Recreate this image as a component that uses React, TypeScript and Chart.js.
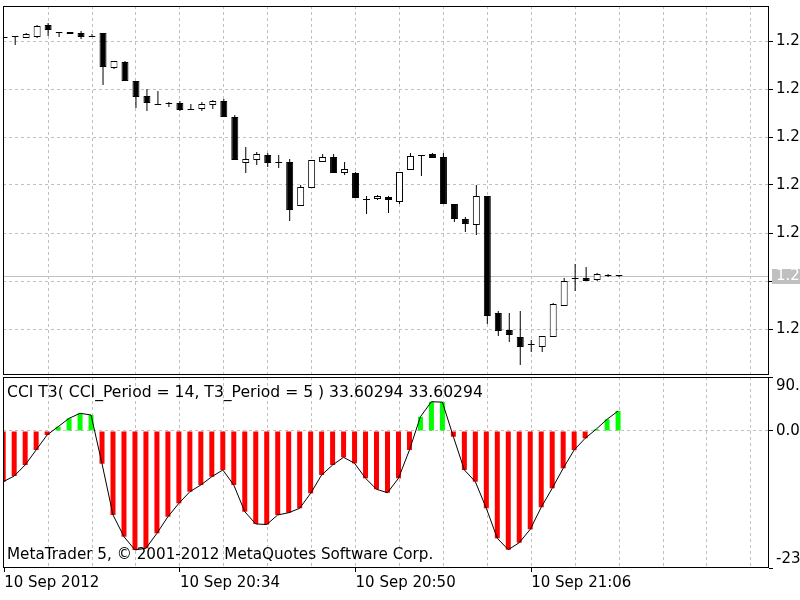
import React, { useEffect, useRef } from "react";
import { Chart, registerables } from "chart.js";

Chart.register(...registerables);

const FONT_FAMILY = "DejaVu Sans";
const FONT_SIZE = 15;
const TITLE_FONT_SIZE = 15.6;
const COPYRIGHT_FONT_SIZE = 15.2;
const GRID_COLOR = "#c0c0c0";
const GRID_DASH = [3, 3];

// ---- data: 1-minute bars, first bar = 10 Sep 2012 20:18 ----
const open = [
  1.28768, 1.28769, 1.28768, 1.28769, 1.28781, 1.28773, 1.28774, 1.28773, 1.2877, 1.28773,
  1.28738, 1.28744, 1.28725, 1.2871, 1.28702, 1.28702, 1.28703, 1.28696, 1.28697, 1.28701,
  1.28705, 1.28689, 1.28643, 1.28646, 1.28651, 1.28644, 1.28644, 1.286, 1.28618, 1.28644,
  1.28649, 1.28633, 1.28633, 1.28606, 1.28607, 1.28609, 1.28604, 1.28636, 1.2865, 1.28652,
  1.28649, 1.28602, 1.28587, 1.28581, 1.2861, 1.28493, 1.28476, 1.28469, 1.28461, 1.28459,
  1.28469, 1.285, 1.28527, 1.28528, 1.28526, 1.2853, 1.28531,
];
const high = [
  1.28768, 1.28769, 1.28773, 1.28781, 1.28783, 1.28773, 1.28774, 1.28775, 1.28772, 1.28773,
  1.28745, 1.28745, 1.28725, 1.28717, 1.28715, 1.28704, 1.28705, 1.28702, 1.28704, 1.28706,
  1.28707, 1.28691, 1.28659, 1.28654, 1.28653, 1.28651, 1.28647, 1.28621, 1.28646, 1.28652,
  1.28652, 1.28644, 1.28634, 1.2861, 1.28611, 1.2861, 1.28634, 1.28653, 1.2865, 1.28653,
  1.28653, 1.28602, 1.28589, 1.28621, 1.2861, 1.28495, 1.28493, 1.28495, 1.28466, 1.2847,
  1.28503, 1.28528, 1.28542, 1.28539, 1.28533, 1.28532, 1.28531,
];
const low = [
  1.28768, 1.28761, 1.28768, 1.28768, 1.2877, 1.28769, 1.28772, 1.28767, 1.28769, 1.28721,
  1.28737, 1.28725, 1.28698, 1.28695, 1.28701, 1.28699, 1.28695, 1.28696, 1.28695, 1.28697,
  1.28689, 1.28646, 1.28633, 1.28641, 1.28639, 1.28638, 1.28585, 1.286, 1.28618, 1.28644,
  1.28633, 1.28631, 1.28608, 1.28592, 1.28606, 1.28593, 1.28602, 1.28636, 1.2863, 1.28648,
  1.28602, 1.28584, 1.28574, 1.28571, 1.28482, 1.2847, 1.28464, 1.28441, 1.28454, 1.28454,
  1.28469, 1.285, 1.28515, 1.28525, 1.28525, 1.28529, 1.28529,
];
const close = [
  1.28768, 1.28769, 1.28772, 1.2878, 1.28776, 1.28773, 1.28772, 1.28769, 1.28769, 1.28739,
  1.28745, 1.28725, 1.28709, 1.28703, 1.28701, 1.28702, 1.28696, 1.28696, 1.28702, 1.28705,
  1.28689, 1.28646, 1.28647, 1.28652, 1.28643, 1.28643, 1.28596, 1.28619, 1.28646, 1.28649,
  1.28633, 1.28637, 1.28608, 1.28606, 1.2861, 1.28606, 1.28634, 1.2865, 1.2865, 1.28648,
  1.28602, 1.28587, 1.28582, 1.2861, 1.2849, 1.28475, 1.28471, 1.28459, 1.28461, 1.2847,
  1.28502, 1.28525, 1.28527, 1.28525, 1.28532, 1.2853, 1.2853,
];
const currentPrice = 1.2853;

const cciT3 = [
  -85.2, -75.6, -57.1, -31.9, -6.7, 7.2, 21.3, 29.7, 26.9, -55.0,
  -141.1, -177.6, -199.9, -197.1, -171.9, -144.0, -121.5, -102.0, -90.7, -76.8,
  -65.5, -90.7, -135.6, -156.2, -157.1, -141.1, -137.3, -129.9, -104.7, -73.9,
  -57.1, -44.2, -54.3, -79.5, -97.9, -103.7, -79.5, -31.9, 24.0, 49.2,
  48.5, -9.6, -65.5, -85.2, -129.9, -180.3, -199.4, -187.7, -165.2, -128.2,
  -96.3, -62.7, -31.9, -12.3, 2.9, 19.7, 33.60294,
];

// axis values
const priceTicks = [1.28765, 1.28717, 1.28669, 1.28621, 1.28573, 1.28525, 1.28477];
const priceMin = 1.28431;
const priceMax = 1.288;
const cciMin = -230.21;
const cciMax = 90.73;
const cciTicks = [cciMax, 0, cciMin];
const gridBars = [0, 4, 8, 12, 16, 20, 24, 28, 32, 36, 40, 44, 48, 52, 56, 60, 64, 68];
const timeTickBars = [0, 16, 32, 48];
const timeTickLabels = ["10 Sep 2012", "10 Sep 20:34", "10 Sep 20:50", "10 Sep 21:06"];

const cciTitle = "CCI T3( CCI_Period = 14, T3_Period = 5 ) 33.60294 33.60294";
const copyright = "MetaTrader 5, \u00A9 2001-2012 MetaQuotes Software Corp.";

// ---- layout constants ----
const BAR_PX = 10.98;
const AREA_LEFT = 3;
const AREA_WIDTH = 766;
const FIRST_BAR_PX = 4.2;
const X_MIN = (AREA_LEFT - FIRST_BAR_PX) / BAR_PX;
const X_MAX = X_MIN + AREA_WIDTH / BAR_PX;
const HIST_SHIFT = 1 / BAR_PX;
const AXIS_W = 800 - AREA_LEFT - AREA_WIDTH;

const trunc = (v: number) => Number(v).toFixed(5).slice(0, 3);

const fixSize = (size: number, horizontal: boolean) => (s: any) => {
  if (horizontal) s.height = size;
  else s.width = size;
  s.paddingTop = 0;
  s.paddingBottom = 0;
  s.paddingLeft = 0;
  s.paddingRight = 0;
};

const drawFrame = (chart: any) => {
  const { ctx, chartArea: a } = chart;
  ctx.save();
  ctx.strokeStyle = "#000";
  ctx.lineWidth = 1;
  ctx.setLineDash([]);
  ctx.strokeRect(a.left + 0.5, a.top + 0.5, a.right - a.left - 1, a.bottom - a.top - 1);
  ctx.restore();
};

export default function App() {
  const refA = useRef<HTMLCanvasElement>(null);
  const refB = useRef<HTMLCanvasElement>(null);

  useEffect(() => {
    Chart.defaults.font.family = FONT_FAMILY;
    Chart.defaults.font.size = FONT_SIZE;
    Chart.defaults.color = "#000";

    const bars = open.map((_, i) => i);

    const pricePlugin = {
      id: "pricePlugin",
      beforeDatasetsDraw(chart: any) {
        const { ctx, chartArea: a, scales } = chart;
        const y = Math.round(scales.y.getPixelForValue(currentPrice)) + 0.5;
        ctx.save();
        ctx.strokeStyle = "#c0c0c0";
        ctx.lineWidth = 1;
        ctx.beginPath();
        ctx.moveTo(a.left, y);
        ctx.lineTo(a.right, y);
        ctx.stroke();
        ctx.restore();
      },
      afterDraw(chart: any) {
        drawFrame(chart);
        const { ctx, chartArea: a, scales } = chart;
        const yc = Math.round(scales.y.getPixelForValue(currentPrice));
        ctx.save();
        ctx.fillStyle = "#c0c0c0";
        ctx.fillRect(a.right + 3, yc - 7, chart.width - a.right - 3, 15);
        ctx.fillStyle = "#ffffff";
        ctx.font = `${FONT_SIZE}px "${FONT_FAMILY}"`;
        ctx.textBaseline = "middle";
        ctx.textAlign = "left";
        ctx.fillText(trunc(currentPrice), a.right + 7, yc + 0.5);
        ctx.restore();
      },
    };

    const chartA = new Chart(refA.current!, {
      type: "bar",
      data: {
        datasets: [
          {
            label: "body",
            data: bars.map((i) => ({ x: i, y: [open[i], close[i]] })) as any,
            backgroundColor: bars.map((i) => (close[i] > open[i] ? "#ffffff" : "#000000")),
            borderColor: "#000000",
            borderWidth: 1,
            borderSkipped: false,
            grouped: false,
            maxBarThickness: 7,
            minBarLength: 1,
            order: 1,
          } as any,
          {
            label: "wick",
            data: bars.map((i) => ({ x: i, y: [low[i], high[i]] })) as any,
            backgroundColor: "#000000",
            borderWidth: 0,
            grouped: false,
            maxBarThickness: 1,
            order: 2,
          } as any,
        ],
      },
      options: {
        responsive: false,
        animation: false,
        events: [],
        layout: { padding: { left: AREA_LEFT, top: 6, right: 0, bottom: 1 } },
        plugins: { legend: { display: false }, tooltip: { enabled: false } },
        scales: {
          x: {
            type: "linear",
            min: X_MIN,
            max: X_MAX,
            offset: false,
            ticks: { display: false, autoSkip: false },
            grid: {
              offset: false,
              drawTicks: false,
              color: (c: any) => (c.tick && c.tick.value === 0 ? "rgba(0,0,0,0)" : GRID_COLOR),
            },
            border: { display: false, dash: GRID_DASH },
            afterBuildTicks: (s: any) => {
              s.ticks = gridBars.map((v) => ({ value: v }));
            },
            afterFit: fixSize(0, true),
          },
          y: {
            type: "linear",
            position: "right",
            min: priceMin,
            max: priceMax,
            beginAtZero: false,
            ticks: {
              padding: 3,
              color: "#000",
              font: { family: FONT_FAMILY, size: FONT_SIZE },
              callback: (v: any) => (Math.abs(Number(v) - currentPrice) < 0.0001 ? "" : trunc(Number(v))),
            },
            grid: { color: GRID_COLOR, tickColor: "#000", tickLength: 4 },
            border: { display: false, dash: GRID_DASH },
            afterBuildTicks: (s: any) => {
              s.ticks = priceTicks.map((v) => ({ value: v }));
            },
            afterFit: fixSize(AXIS_W, false),
          },
        },
      } as any,
      plugins: [pricePlugin],
    });

    const cciPlugin = {
      id: "cciPlugin",
      afterDraw(chart: any) {
        drawFrame(chart);
        const { ctx, chartArea: a } = chart;
        ctx.save();
        ctx.fillStyle = "#000";
        ctx.textBaseline = "middle";
        ctx.textAlign = "left";
        ctx.font = `${TITLE_FONT_SIZE}px "${FONT_FAMILY}"`;
        ctx.fillText(cciTitle, a.left + 4, a.top + 16);
        ctx.font = `${COPYRIGHT_FONT_SIZE}px "${FONT_FAMILY}"`;
        ctx.fillText(copyright, a.left + 4, a.bottom - 13);
        ctx.restore();
      },
    };

    const chartB = new Chart(refB.current!, {
      type: "bar",
      data: {
        datasets: [
          {
            type: "line",
            label: "CCI T3 line",
            data: bars.map((i) => ({ x: i, y: cciT3[i] })),
            xAxisID: "xh",
            borderColor: "#000000",
            borderWidth: 1,
            pointRadius: 0,
            tension: 0,
            fill: false,
            order: 0,
          } as any,
          {
            type: "bar",
            label: "CCI T3",
            data: bars.map((i) => ({ x: i, y: cciT3[i] })),
            xAxisID: "xh",
            backgroundColor: bars.map((i) => (cciT3[i] >= 0 ? "#00ff00" : "#ff0000")),
            borderWidth: 0,
            grouped: false,
            maxBarThickness: 5,
            order: 1,
          } as any,
        ],
      },
      options: {
        responsive: false,
        animation: false,
        events: [],
        layout: { padding: { left: AREA_LEFT, top: 1, right: 0, bottom: 0 } },
        plugins: { legend: { display: false }, tooltip: { enabled: false } },
        scales: {
          x: {
            type: "linear",
            position: "bottom",
            min: X_MIN,
            max: X_MAX,
            offset: false,
            ticks: {
              autoSkip: false,
              maxRotation: 0,
              minRotation: 0,
              align: "start",
              padding: 2,
              color: "#000",
              font: { family: FONT_FAMILY, size: FONT_SIZE },
              callback: (v: any) => {
                const k = timeTickBars.indexOf(Number(v));
                return k >= 0 ? timeTickLabels[k] : "";
              },
            },
            grid: {
              offset: false,
              tickLength: 4,
              color: (c: any) => (c.tick && c.tick.value === 0 ? "rgba(0,0,0,0)" : GRID_COLOR),
              tickColor: (c: any) =>
                c.tick && timeTickBars.includes(c.tick.value) ? "#000" : "rgba(0,0,0,0)",
            },
            border: { display: false, dash: GRID_DASH },
            afterBuildTicks: (s: any) => {
              s.ticks = gridBars.map((v) => ({ value: v }));
            },
            afterFit: fixSize(32, true),
          },
          xh: {
            type: "linear",
            display: false,
            min: X_MIN + HIST_SHIFT,
            max: X_MAX + HIST_SHIFT,
            offset: false,
            grid: { offset: false },
          },
          y: {
            type: "linear",
            position: "right",
            min: cciMin,
            max: cciMax,
            beginAtZero: false,
            ticks: {
              padding: 3,
              color: "#000",
              font: { family: FONT_FAMILY, size: FONT_SIZE },
              callback: (v: any) => {
                const n = Number(v);
                const t = trunc(n);
                if (n === cciMax) return ["", t];
                if (n === cciMin) return [t, ""];
                return t;
              },
            },
            grid: {
              color: (c: any) => (c.tick && c.tick.value === 0 ? GRID_COLOR : "rgba(0,0,0,0)"),
              tickColor: "#000",
              tickLength: 4,
            },
            border: { display: false, dash: GRID_DASH },
            afterBuildTicks: (s: any) => {
              s.ticks = cciTicks.map((v) => ({ value: v }));
            },
            afterFit: fixSize(AXIS_W, false),
          },
        },
      } as any,
      plugins: [cciPlugin],
    });

    return () => {
      chartA.destroy();
      chartB.destroy();
    };
  }, []);

  return (
    <div style={{ position: "fixed", left: 0, top: 0, width: 800, height: 600, background: "#ffffff" }}>
      <canvas
        ref={refA}
        width={800}
        height={376}
        style={{ position: "absolute", left: 0, top: 0, width: 800, height: 376 }}
      />
      <canvas
        ref={refB}
        width={800}
        height={224}
        style={{ position: "absolute", left: 0, top: 376, width: 800, height: 224 }}
      />
    </div>
  );
}
